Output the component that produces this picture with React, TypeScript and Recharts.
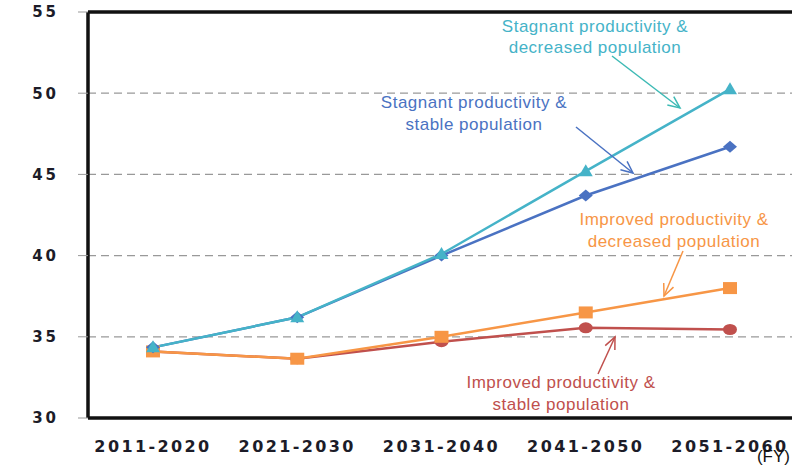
import React from 'react';
import { LineChart, Line, XAxis, YAxis, CartesianGrid, ReferenceLine } from 'recharts';

const categories = ['2011-2020', '2021-2030', '2031-2040', '2041-2050', '2051-2060'];
const stagnantDecreased = [34.35, 36.2, 40.1, 45.2, 50.25];
const stagnantStable = [34.35, 36.2, 40.0, 43.7, 46.7];
const improvedDecreased = [34.1, 33.65, 35.0, 36.5, 38.0];
const improvedStable = [34.1, 33.65, 34.7, 35.55, 35.45];
const yTicks = [30, 35, 40, 45, 50, 55];

const data = categories.map((c, i) => ({
  period: c,
  sd: stagnantDecreased[i],
  ss: stagnantStable[i],
  id: improvedDecreased[i],
  is: improvedStable[i],
}));

const TEAL = '#45B3C8';
const BLUE = '#4A72C2';
const ORANGE = '#F79646';
const RED = '#C0504D';

const Triangle = (p: any) => {
  const { cx, cy } = p;
  if (cx == null || cy == null) return null;
  return <path key={p.key} d={`M${cx},${cy - 7} L${cx + 7},${cy + 5} L${cx - 7},${cy + 5} Z`} fill={TEAL} />;
};
const Diamond = (p: any) => {
  const { cx, cy } = p;
  if (cx == null || cy == null) return null;
  return <path key={p.key} d={`M${cx},${cy - 6} L${cx + 7},${cy} L${cx},${cy + 6} L${cx - 7},${cy} Z`} fill={BLUE} />;
};
const Square = (p: any) => {
  const { cx, cy } = p;
  if (cx == null || cy == null) return null;
  return <rect key={p.key} x={cx - 7} y={cy - 6} width={14} height={12} fill={ORANGE} />;
};
const Circle = (p: any) => {
  const { cx, cy } = p;
  if (cx == null || cy == null) return null;
  return <ellipse key={p.key} cx={cx} cy={cy} rx={7} ry={5.5} fill={RED} />;
};

const arrow = (x1: number, y1: number, x2: number, y2: number, color: string) => {
  const a = Math.atan2(y2 - y1, x2 - x1);
  const L = 13;
  const s = 0.42;
  const h1x = x2 - L * Math.cos(a - s);
  const h1y = y2 - L * Math.sin(a - s);
  const h2x = x2 - L * Math.cos(a + s);
  const h2y = y2 - L * Math.sin(a + s);
  return (
    <g stroke={color} strokeWidth={1.5} fill="none">
      <line x1={x1} y1={y1} x2={x2} y2={y2} />
      <polyline points={`${h1x},${h1y} ${x2},${y2} ${h2x},${h2y}`} />
    </g>
  );
};

const labelStyle = { fontFamily: 'Liberation Sans, Arial, sans-serif', fontSize: 17, letterSpacing: 0.5 };

export default function App() {
  return (
    <div style={{ position: 'absolute', left: 0, top: 0, width: 792, height: 465, background: '#fff' }}>
      <LineChart width={792} height={465} data={data} margin={{ top: 12, right: 0, bottom: 0, left: 0 }}>
        <CartesianGrid vertical={false} stroke="#999" strokeDasharray="8 5" strokeWidth={1.3} />
        <XAxis
          dataKey="period"
          scale="point"
          padding={{ left: 65, right: 62 }}
          height={47}
          tickLine={false}
          tickMargin={17}
          axisLine={{ stroke: '#111', strokeWidth: 3.5 }}
          tick={{ fill: '#1c1c28', fontSize: 16, fontWeight: 'bold', fontFamily: 'DejaVu Sans', letterSpacing: 2.4 }}
        />
        <YAxis
          domain={[30, 55]}
          ticks={yTicks}
          width={88}
          tickSize={10}
          tickMargin={19}
          tickLine={{ stroke: '#999' }}
          axisLine={{ stroke: '#111', strokeWidth: 3.5 }}
          tick={{ fill: '#1c1c28', fontSize: 15, fontWeight: 'bold', fontFamily: 'DejaVu Sans', letterSpacing: 3 }}
        />
        <ReferenceLine y={55} stroke="#111" strokeWidth={3.5} />
        <Line dataKey="is" stroke={RED} strokeWidth={2.5} dot={Circle} isAnimationActive={false} />
        <Line dataKey="id" stroke={ORANGE} strokeWidth={2.5} dot={Square} isAnimationActive={false} />
        <Line dataKey="ss" stroke={BLUE} strokeWidth={2.5} dot={Diamond} isAnimationActive={false} />
        <Line dataKey="sd" stroke={TEAL} strokeWidth={2.5} dot={Triangle} isAnimationActive={false} />
      </LineChart>
      <svg width={792} height={465} style={{ position: 'absolute', left: 0, top: 0, pointerEvents: 'none' }}>
        <g style={labelStyle} textAnchor="middle">
          <text x={595} y={32} fill={TEAL}>Stagnant productivity &amp;</text>
          <text x={595} y={53} fill={TEAL}>decreased population</text>
          <text x={474} y={108} fill={BLUE}>Stagnant productivity &amp;</text>
          <text x={474} y={130} fill={BLUE}>stable population</text>
          <text x={674} y={225} fill={ORANGE}>Improved productivity &amp;</text>
          <text x={674} y={247} fill={ORANGE}>decreased population</text>
          <text x={561} y={388} fill={RED}>Improved productivity &amp;</text>
          <text x={561} y={410} fill={RED}>stable population</text>
        </g>
        <text x={790} y={462} textAnchor="end" fill="#111" style={{ fontFamily: 'Liberation Sans, Arial, sans-serif', fontSize: 17 }}>(FY)</text>
        {arrow(612, 56, 680, 108, '#3DBAB5')}
        {arrow(576, 127, 633, 173, BLUE)}
        {arrow(683, 251, 664, 296, ORANGE)}
        {arrow(598, 374, 615, 337, RED)}
      </svg>
    </div>
  );
}
